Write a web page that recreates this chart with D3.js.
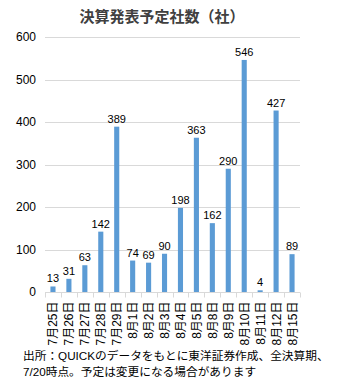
<!DOCTYPE html>
<html><head><meta charset="utf-8">
<script src="https://cdn.jsdelivr.net/npm/d3@7"></script>
<style>body{margin:0;background:#fff;}svg{display:block;}</style>
</head><body>
<script>
const categories = ["7月25日","7月26日","7月27日","7月28日","7月29日","8月1日","8月2日","8月3日","8月4日","8月5日","8月8日","8月9日","8月10日","8月11日","8月12日","8月15日"];
const values = [13,31,63,142,389,74,69,90,198,363,162,290,546,4,427,89];
const yTicks = [0,100,200,300,400,500,600];
const title = "決算発表予定社数（社）";
const footnotes = ["出所：QUICKのデータをもとに東洋証券作成、全決算期、","7/20時点。予定は変更になる場合があります"];

const W=340,H=387;
const svg=d3.select("body").append("svg").attr("width",W).attr("height",H);
const font="Arial, 'Liberation Sans', 'Noto Sans CJK JP', sans-serif";
const x=d3.scaleBand().domain(categories).range([45,300]).paddingInner(0.68).paddingOuter(0.34);
const y=d3.scaleLinear().domain([0,600]).range([292,37]);

svg.append("text").attr("x",162).attr("y",22).attr("text-anchor","middle")
  .attr("font-family",font).attr("font-size",15).attr("font-weight","bold").attr("fill","#404040").text(title);

// gridlines
svg.append("g").selectAll("line").data(yTicks.filter(d=>d>0)).join("line")
  .attr("x1",45).attr("x2",300).attr("y1",d=>Math.round(y(d))+0.5).attr("y2",d=>Math.round(y(d))+0.5)
  .attr("stroke","#d9d9d9").attr("stroke-width",1);

// y axis labels
const ya=svg.append("g").attr("transform","translate(36,0)").call(d3.axisLeft(y).tickValues(yTicks).tickSize(0).tickPadding(0));
ya.select(".domain").remove();
ya.selectAll("text").attr("font-family",font).attr("font-size",12).attr("fill","#000");

// bars
svg.append("g").selectAll("rect").data(values).join("rect")
  .attr("x",(d,i)=>x(categories[i])).attr("width",x.bandwidth())
  .attr("y",d=>y(d)).attr("height",d=>y(0)-y(d)).attr("fill","#5b9bd5");

// value labels
svg.append("g").selectAll("text").data(values).join("text")
  .attr("x",(d,i)=>x(categories[i])+x.bandwidth()/2).attr("y",d=>y(d)-4)
  .attr("text-anchor","middle").attr("font-family",font).attr("font-size",11).attr("fill","#000").text(d=>d);

// x axis
const step=x.step();
const xa=svg.append("g").attr("transform",`translate(0,${Math.round(y(0))+0.5})`);
xa.append("line").attr("x1",45).attr("x2",300).attr("stroke","#d9d9d9");
xa.selectAll("line.t").data(d3.range(categories.length+1)).join("line").attr("class","t")
  .attr("x1",i=>Math.round(45+i*step)+0.5).attr("x2",i=>Math.round(45+i*step)+0.5).attr("y1",0).attr("y2",5).attr("stroke","#d9d9d9");
xa.selectAll("text").data(categories).join("text")
  .attr("transform",d=>`translate(${x(d)+x.bandwidth()/2+4.5},9) rotate(-90)`)
  .attr("text-anchor","end").attr("font-family",font).attr("font-size",12).attr("fill","#000").text(d=>d);

// footnotes
svg.append("g").selectAll("text").data(footnotes).join("text")
  .attr("x",23).attr("y",(d,i)=>360+i*16).attr("font-family",font).attr("font-size",11.7).attr("fill","#000").text(d=>d);
</script>
</body></html>
